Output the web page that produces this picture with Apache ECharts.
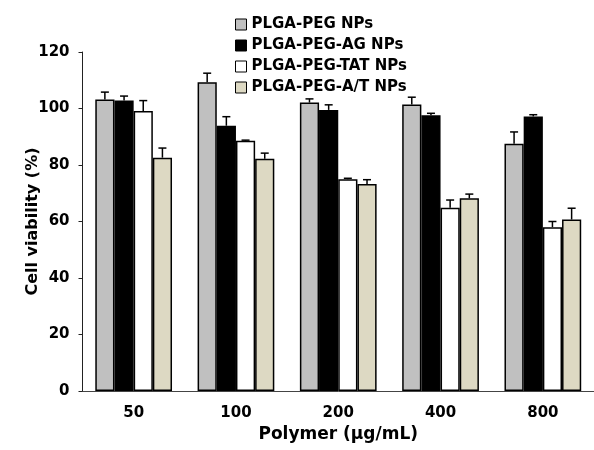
<!DOCTYPE html>
<html>
<head>
<meta charset="utf-8">
<script src="https://cdn.jsdelivr.net/npm/echarts@6/dist/echarts.min.js"></script>
<style>
  html, body { margin: 0; padding: 0; background: #fff; }
  #chart-container { width: 594px; height: 450px; }
</style>
</head>
<body>
<div id="chart-container"></div>
<script>
var dom = document.getElementById('chart-container');
var myChart = echarts.init(dom, null, { renderer: 'canvas' });

var doses = ['50', '100', '200', '400', '800'];
var names = ['PLGA-PEG NPs', 'PLGA-PEG-AG NPs', 'PLGA-PEG-TAT NPs', 'PLGA-PEG-A/T NPs'];
var colors = ['#c0c0c0', '#000000', '#ffffff', '#ddd9c3'];

// mean viability (%) per dose
var pegMean = [103.2, 109.3, 102.1, 101.4, 87.5];
var agMean = [102.8, 93.9, 99.5, 97.6, 97.2];
var tatMean = [99.1, 88.6, 75.0, 64.9, 58.0];
var atMean = [82.6, 82.2, 73.3, 68.2, 60.7];
// error (upper bar only)
var pegErr = [2.6, 3.2, 1.3, 2.6, 4.2];
var agErr = [1.6, 3.2, 1.8, 0.7, 0.6];
var tatErr = [3.7, 0.2, 0.3, 2.7, 2.0];
var atErr = [3.4, 2.0, 1.5, 1.5, 4.0];

var means = [pegMean, agMean, tatMean, atMean];
var errs = [pegErr, agErr, tatErr, atErr];

var font = 'DejaVu Sans';
var gapRatio = 0.25;

function errorSeries(k) {
  return {
    type: 'custom',
    z: 5,
    silent: true,
    data: means[k].map(function (v, i) { return [i, v, errs[k][i]]; }),
    renderItem: function (params, api) {
      var band = api.size([1, 0])[0];
      var barW = band * (1 - gapRatio) / 4;
      var base = api.coord([api.value(0), api.value(1)]);
      var top = api.coord([api.value(0), api.value(1) + api.value(2)]);
      var x = base[0] + (k - 1.5) * barW;
      var style = { stroke: '#000', lineWidth: 1.5 };
      return {
        type: 'group',
        children: [
          { type: 'line', shape: { x1: x, y1: base[1], x2: x, y2: top[1] }, style: style },
          { type: 'line', shape: { x1: x - 4, y1: top[1], x2: x + 4, y2: top[1] }, style: style }
        ]
      };
    }
  };
}

var series = [];
names.forEach(function (n, k) {
  series.push({
    name: n,
    type: 'bar',
    data: means[k],
    barGap: 0,
    barCategoryGap: (gapRatio * 100) + '%',
    itemStyle: { color: colors[k], borderColor: '#000', borderWidth: 1.5 }
  });
});
names.forEach(function (n, k) { series.push(errorSeries(k)); });

var option = {
  backgroundColor: '#fff',
  animation: false,
  textStyle: { fontFamily: font },
  legend: {
    data: names,
    orient: 'vertical',
    left: 235,
    top: 17,
    padding: 0,
    itemGap: 6,
    itemWidth: 11,
    itemHeight: 11,
    icon: 'rect',
    itemStyle: { borderColor: '#000', borderWidth: 1 },
    textStyle: { fontFamily: font, fontWeight: 'bold', fontSize: 15, lineHeight: 15, color: '#000' }
  },
  grid: { left: 82.5, right: -3.5, top: 52, bottom: 59 },
  xAxis: {
    type: 'category',
    data: doses,
    name: 'Polymer (\u00b5g/mL)',
    nameLocation: 'middle',
    nameGap: 35,
    nameMoveOverlap: false,
    nameTextStyle: { fontFamily: font, fontWeight: 'bold', fontSize: 17, color: '#000' },
    axisLine: { lineStyle: { color: '#444', width: 1 } },
    axisTick: { show: false },
    axisLabel: { margin: 15, fontFamily: font, fontWeight: 'bold', fontSize: 15, color: '#000' },
    splitLine: { show: false }
  },
  yAxis: {
    type: 'value',
    min: 0,
    max: 120,
    interval: 20,
    name: 'Cell viability (%)',
    nameLocation: 'middle',
    nameRotate: 90,
    nameGap: 42,
    nameMoveOverlap: false,
    nameTextStyle: { fontFamily: font, fontWeight: 'bold', fontSize: 16, color: '#000' },
    axisLine: { show: true, lineStyle: { color: '#222', width: 1 } },
    axisTick: { show: true, inside: false, length: 4, lineStyle: { color: '#222' } },
    axisLabel: { margin: 13, fontFamily: font, fontWeight: 'bold', fontSize: 15, color: '#000' },
    splitLine: { show: false }
  },
  series: series
};

myChart.setOption(option);
window.addEventListener('resize', myChart.resize);
</script>
</body>
</html>
